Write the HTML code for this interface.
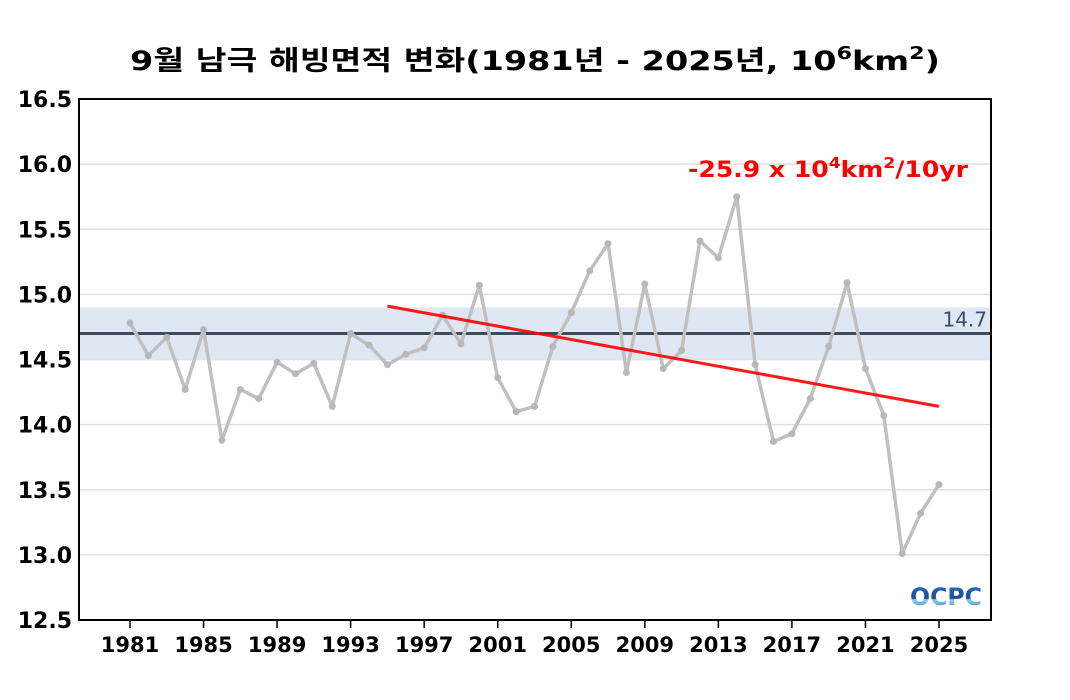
<!DOCTYPE html>
<html><head><meta charset="utf-8"><style>
body{margin:0;background:#fff;}
svg{display:block;font-family:"DejaVu Sans","Noto Sans CJK KR",sans-serif;}
</style></head><body>
<svg id="c" width="1070" height="700">
<defs><linearGradient id="lg" x1="0" y1="0" x2="0" y2="1"><stop offset="0" stop-color="#2a6fb8"/><stop offset="0.55" stop-color="#1a4f96"/><stop offset="0.6" stop-color="#8fd0f0"/><stop offset="1" stop-color="#1d6fb0"/></linearGradient></defs>
<text x="535" y="70" text-anchor="middle" font-size="27" font-weight="bold" textLength="810" lengthAdjust="spacingAndGlyphs">9월 남극 해빙면적 변화(1981년 - 2025년, 10<tspan dy="-11" font-size="18">6</tspan><tspan dy="11">km</tspan><tspan dy="-11" font-size="18">2</tspan><tspan dy="11">)</tspan></text>
<g id="grid"></g>
<g id="marks"></g>
<rect x="79" y="99" width="912" height="521" fill="none" stroke="#000" stroke-width="2"/>
<text x="688" y="177" font-size="22" font-weight="bold" fill="#ff0000" textLength="280" lengthAdjust="spacingAndGlyphs">-25.9 x 10<tspan dy="-9" font-size="15">4</tspan><tspan dy="9">km</tspan><tspan dy="-9" font-size="15">2</tspan><tspan dy="9">/10yr</tspan></text>
<text x="910" y="605" font-size="24" font-weight="900" fill="url(#lg)" textLength="72" lengthAdjust="spacingAndGlyphs">OCPC</text>
</svg>
<script>
const years=[1981,1982,1983,1984,1985,1986,1987,1988,1989,1990,1991,1992,1993,1994,1995,1996,1997,1998,1999,2000,2001,2002,2003,2004,2005,2006,2007,2008,2009,2010,2011,2012,2013,2014,2015,2016,2017,2018,2019,2020,2021,2022,2023,2024,2025];
const extent=[14.78,14.53,14.67,14.27,14.73,13.88,14.27,14.20,14.48,14.39,14.47,14.14,14.70,14.61,14.46,14.54,14.59,14.84,14.62,15.07,14.36,14.10,14.14,14.60,14.86,15.18,15.39,14.40,15.08,14.43,14.57,15.41,15.28,15.75,14.46,13.87,13.93,14.20,14.60,15.09,14.43,14.07,13.01,13.32,13.54];
const yTicks=[12.5,13.0,13.5,14.0,14.5,15.0,15.5,16.0,16.5];
const xTicks=[1981,1985,1989,1993,1997,2001,2005,2009,2013,2017,2021,2025];
const meanVal=[14.7];
const band=[14.5,14.9];
const trendYears=[1995,2025];
const trendVals=[14.91,14.14];
const NS="http://www.w3.org/2000/svg";
const X=y=>130+(y-1981)*(809/44);
const Y=v=>620-(v-12.5)*(521/4);
const grid=document.getElementById('grid'),marks=document.getElementById('marks');
function mk(p,tag,a){const e=document.createElementNS(NS,tag);for(const k in a)e.setAttribute(k,a[k]);p.appendChild(e);return e;}
yTicks.forEach(v=>{
 const l=mk(grid,'line',{x1:79,x2:991,y1:Y(v),y2:Y(v),stroke:'#e0e0e0','stroke-width':1.5});
 
 
 const t=mk(grid,'text',{x:72,y:Y(v)+8,'text-anchor':'end','font-size':22,'font-weight':'bold'});t.textContent=v.toFixed(1);
 
 
});
xTicks.forEach(y=>{
 const tk=mk(grid,'line',{x1:X(y),x2:X(y),y1:620,y2:628,stroke:'#000','stroke-width':1.5});
 
 
 const t=mk(grid,'text',{x:X(y),y:652,'text-anchor':'middle','font-size':21,'font-weight':'bold'});t.textContent=y;
 
 
});
const b=mk(marks,'rect',{x:79,width:912,y:Y(band[1]),height:Y(band[0])-Y(band[1]),fill:'#dfe8f2'});


const ml=mk(marks,'line',{x1:79,x2:991,y1:Y(meanVal[0]),y2:Y(meanVal[0]),stroke:'#3d4b5c','stroke-width':3});


const mt=mk(marks,'text',{x:987,y:Y(meanVal[0])-7,'text-anchor':'end','font-size':20,fill:'#3d4b6c'});mt.textContent=meanVal[0].toFixed(1);


const pl=mk(marks,'polyline',{points:years.map((y,i)=>X(y)+','+Y(extent[i])).join(' '),fill:'none',stroke:'#c0c0c0','stroke-width':3.5,'stroke-linejoin':'round'});


years.forEach((y,i)=>{const c=mk(marks,'circle',{cx:X(y),cy:Y(extent[i]),r:3.5,fill:'#b8b8b8'});
 
 });
const tl=mk(marks,'line',{x1:X(trendYears[0]),y1:Y(trendVals[0]),x2:X(trendYears[1]),y2:Y(trendVals[1]),stroke:'#ff0000','stroke-width':3,'stroke-opacity':0.9});


</script>
</body></html>
